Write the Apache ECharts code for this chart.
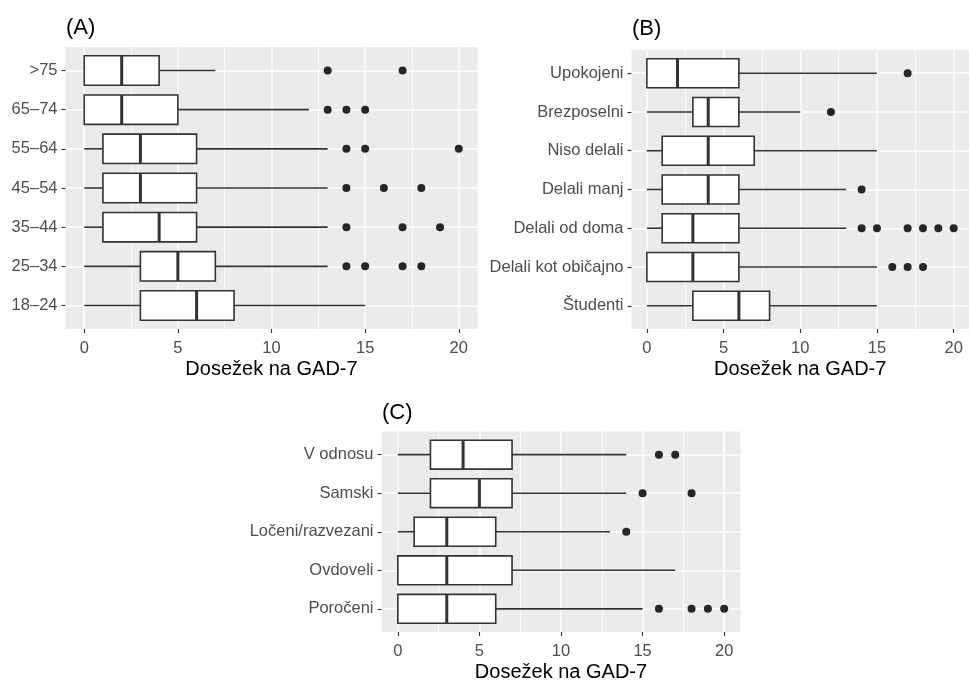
<!DOCTYPE html>
<html>
<head>
<meta charset="utf-8">
<script src="https://cdn.jsdelivr.net/npm/echarts@6/dist/echarts.min.js"></script>
<style>
  html, body { margin: 0; padding: 0; background: #ffffff; }
  #chart { width: 969px; height: 683px; }
</style>
</head>
<body>
<div id="chart"></div>
<script>
// GAD-7 score boxplots by age group (A), work status (B) and relationship status (C).
// Each box: [whisker low, Q1, median, Q3, whisker high]; categories listed bottom to top.

const ageCategories = ['18–24', '25–34', '35–44', '45–54', '55–64', '65–74', '>75'];
const ageBoxes = [
  [0, 3, 6, 8, 15],
  [0, 3, 5, 7, 13],
  [0, 1, 4, 6, 13],
  [0, 1, 3, 6, 13],
  [0, 1, 3, 6, 13],
  [0, 0, 2, 5, 12],
  [0, 0, 2, 4, 7]
];
const ageOutliers = [
  [],
  [14, 15, 17, 18],
  [14, 17, 19],
  [14, 16, 18],
  [14, 15, 20],
  [13, 14, 15],
  [13, 17]
];

const workCategories = ['Študenti', 'Delali kot običajno', 'Delali od doma', 'Delali manj', 'Niso delali', 'Brezposelni', 'Upokojeni'];
const workBoxes = [
  [0, 3, 6, 8, 15],
  [0, 0, 3, 6, 15],
  [0, 1, 3, 6, 13],
  [0, 1, 4, 6, 13],
  [0, 1, 4, 7, 15],
  [0, 3, 4, 6, 10],
  [0, 0, 2, 6, 15]
];
const workOutliers = [
  [],
  [16, 17, 18],
  [14, 15, 17, 18, 19, 20],
  [14],
  [],
  [12],
  [17]
];

const relCategories = ['Poročeni', 'Ovdoveli', 'Ločeni/razvezani', 'Samski', 'V odnosu'];
const relBoxes = [
  [0, 0, 3, 6, 15],
  [0, 0, 3, 7, 17],
  [0, 1, 3, 6, 13],
  [0, 2, 5, 7, 14],
  [0, 2, 4, 7, 14]
];
const relOutliers = [
  [16, 18, 19, 20],
  [],
  [14],
  [15, 18],
  [16, 17]
];

const xTicks = [0, 5, 10, 15, 20];
const xMinorTicks = [2.5, 7.5, 12.5, 17.5];
const xTitle = 'Dosežek na GAD-7';

const panels = [
  { tag: '(A)', cats: ageCategories, boxes: ageBoxes, outliers: ageOutliers,
    grid: { left: 65.5, top: 47, width: 412, height: 282 }, tagPos: [66, 29] },
  { tag: '(B)', cats: workCategories, boxes: workBoxes, outliers: workOutliers,
    grid: { left: 631.5, top: 50, width: 344, height: 279 }, tagPos: [632, 30] },
  { tag: '(C)', cats: relCategories, boxes: relBoxes, outliers: relOutliers,
    grid: { left: 381.5, top: 431.5, width: 359, height: 202 }, tagPos: [382, 414] }
];

const FONT = 'Liberation Sans, Arial, sans-serif';
const INK = '#333333';

const grids = [], xAxes = [], yAxes = [], series = [], graphics = [];

panels.forEach((p, i) => {
  grids.push(Object.assign({ backgroundColor: '#EBEBEB', show: true, borderWidth: 0, containLabel: false }, p.grid));

  // major x axis with labels and major grid lines
  xAxes.push({
    type: 'value', gridIndex: i, min: -1, max: 21, position: 'bottom',
    axisLine: { show: false, onZero: false },
    axisTick: { show: true, length: 4, customValues: xTicks, lineStyle: { color: INK, width: 1.1 } },
    axisLabel: { customValues: xTicks, color: '#4D4D4D', fontFamily: FONT, fontSize: 16.5, margin: 11 },
    splitLine: { show: true, lineStyle: { color: '#FFFFFF', width: 1.5 } },
    name: xTitle, nameLocation: 'middle', nameGap: 30,
    nameTextStyle: { color: '#000000', fontFamily: FONT, fontSize: 20 }
  });
  // companion x axis carrying the minor grid lines
  xAxes.push({
    type: 'value', gridIndex: i, min: -1, max: 21, position: 'top',
    axisLine: { show: false, onZero: false },
    axisTick: { show: false, customValues: xMinorTicks },
    axisLabel: { show: false, customValues: xMinorTicks },
    splitLine: { show: true, lineStyle: { color: '#FFFFFF', width: 0.8 } }
  });

  const idx = p.cats.map((_, k) => k);
  yAxes.push({
    type: 'value', gridIndex: i, min: -0.6, max: p.cats.length - 0.4,
    axisLine: { show: false, onZero: false },
    axisTick: { show: true, length: 4, customValues: idx, lineStyle: { color: INK, width: 1.1 } },
    axisLabel: { customValues: idx, color: '#4D4D4D', fontFamily: FONT, fontSize: 16.5, margin: 8,
      formatter: v => p.cats[Math.round(v)] },
    splitLine: { show: true, lineStyle: { color: '#FFFFFF', width: 1.5 } }
  });

  const boxData = p.boxes.map((b, k) => [k].concat(b));
  series.push({
    type: 'custom', xAxisIndex: i * 2, yAxisIndex: i, data: boxData, z: 3,
    encode: { x: [1, 2, 3, 4, 5], y: 0 },
    renderItem: (params, api) => {
      const cat = api.value(0);
      const lo = api.coord([api.value(1), cat]);
      const q1 = api.coord([api.value(2), cat]);
      const md = api.coord([api.value(3), cat]);
      const q3 = api.coord([api.value(4), cat]);
      const hi = api.coord([api.value(5), cat]);
      const half = api.size([0, 1])[1] * 0.375;
      const y = q1[1];
      const line = { stroke: INK, lineWidth: 1.6 };
      return {
        type: 'group',
        children: [
          { type: 'line', shape: { x1: lo[0], y1: y, x2: q1[0], y2: y }, style: line },
          { type: 'line', shape: { x1: q3[0], y1: y, x2: hi[0], y2: y }, style: line },
          { type: 'rect', shape: { x: q1[0], y: y - half, width: q3[0] - q1[0], height: half * 2 },
            style: { fill: '#FFFFFF', stroke: INK, lineWidth: 1.6 } },
          { type: 'line', shape: { x1: md[0], y1: y - half, x2: md[0], y2: y + half },
            style: { stroke: INK, lineWidth: 3 } }
        ]
      };
    }
  });

  const pts = [];
  p.outliers.forEach((list, k) => list.forEach(v => pts.push([v, k])));
  series.push({
    type: 'scatter', xAxisIndex: i * 2, yAxisIndex: i, data: pts, z: 4,
    symbol: 'circle', symbolSize: 8, itemStyle: { color: '#262626', opacity: 1 }, silent: true
  });

  graphics.push({
    type: 'text', left: p.tagPos[0], top: p.tagPos[1] - 12,
    style: { text: p.tag, fill: '#000000', font: '22px ' + FONT }
  });
});

const chart = echarts.init(document.getElementById('chart'), null, { renderer: 'canvas' });
chart.setOption({
  animation: false,
  backgroundColor: '#FFFFFF',
  grid: grids,
  xAxis: xAxes,
  yAxis: yAxes,
  series: series,
  graphic: graphics
});
</script>
</body>
</html>
